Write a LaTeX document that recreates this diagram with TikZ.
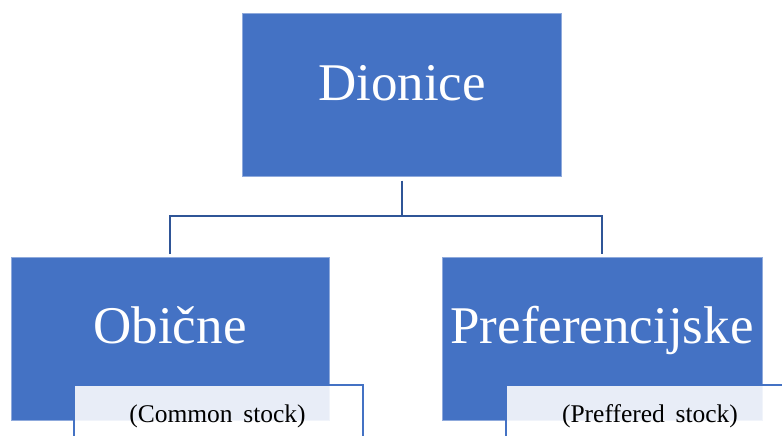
\documentclass[tikz,border=0pt]{standalone}
\usepackage{fontspec}
\setmainfont{Liberation Serif}
\definecolor{boxblue}{HTML}{4472C4}
\definecolor{lineblue}{HTML}{2F5597}
\tikzset{
  bluebox/.style={fill=boxblue, draw=boxblue!60!white, line width=0.6pt, inner sep=0pt, anchor=north west},
  bigtext/.style={text=white, font=\fontsize{53}{60}\selectfont, anchor=base, inner sep=0pt},
  smalltext/.style={text=black, font=\fontsize{25.5}{30}\selectfont, anchor=base, inner sep=0pt},
  lightbox/.style={fill=white, fill opacity=0.88, draw=none},
  lightedge/.style={draw=boxblue, line width=1.6pt},
  conn/.style={draw=lineblue, line width=2.2pt}
}
\begin{document}
\begin{tikzpicture}[x=1pt,y=-1pt]
\useasboundingbox (0,0) rectangle (782,436);
\clip (0,0) rectangle (782,436);
% boxes
\node[bluebox, minimum width=319pt, minimum height=163pt] (top) at (242,13) {};
\node[bluebox, minimum width=318pt, minimum height=163pt] (left) at (11,257) {};
\node[bluebox, minimum width=320pt, minimum height=163pt] (right) at (442,257) {};
% connectors
\coordinate (mid) at (top.south |- 0,216);
\draw[conn] ([yshift=3pt]left.north) |- (mid) -| ([yshift=3pt]right.north);
\draw[conn] ([yshift=-4pt]top.south) -- (mid);
% main labels
\node[bigtext] (tD) at (402,100) {Dionice};
\node[bigtext] (tO) at (170,343) {Obične};
\node[bigtext] (tP) at (602,343) {Preferencijske};
% light sub-boxes
\fill[lightbox] (74,385) rectangle (363,440);
\fill[lightbox] (506,385) rectangle (790,440);
\draw[lightedge] (74,440) -- (74,385) -- (363,385) -- (363,440);
\draw[lightedge] (506,440) -- (506,385) -- (790,385);
\node[smalltext] (tC) at (217.5,422) {(Common\hspace{0.42em}stock)};
\node[smalltext] (tS) at (650,422) {(Preffered\hspace{0.42em}stock)};
\end{tikzpicture}
\end{document}
